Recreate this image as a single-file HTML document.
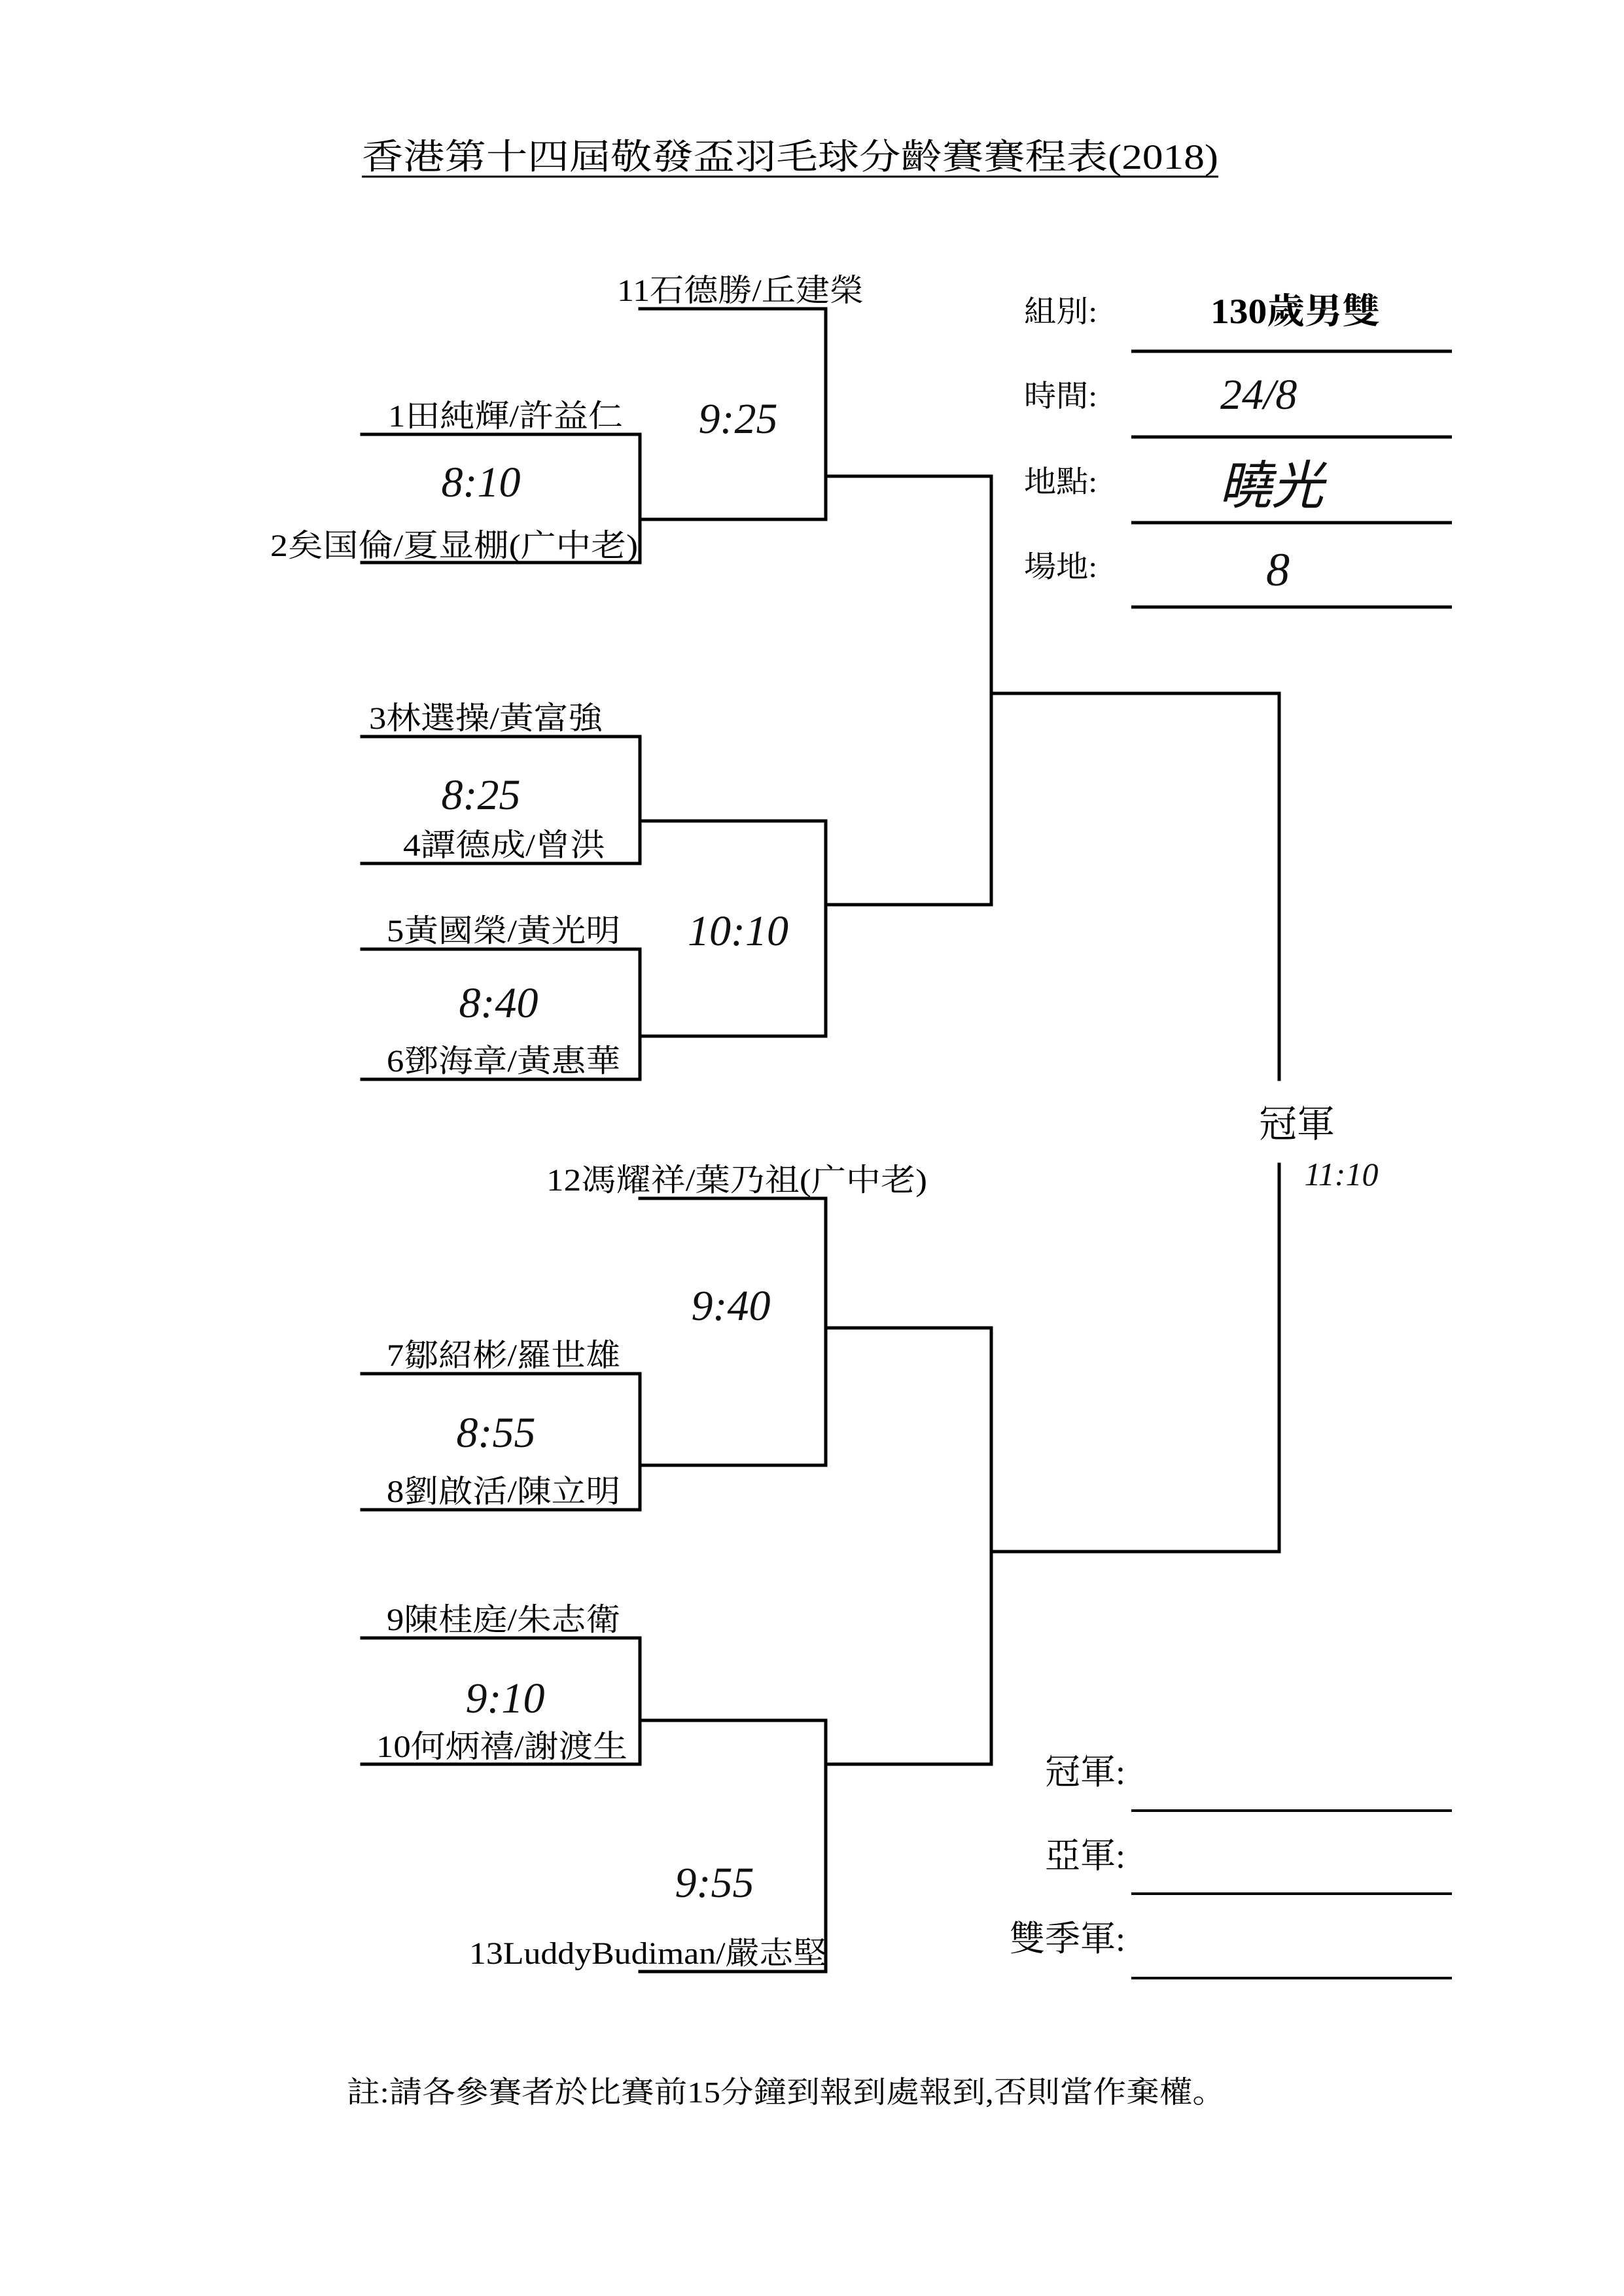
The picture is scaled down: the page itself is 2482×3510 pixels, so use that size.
<!DOCTYPE html>
<html>
<head>
<meta charset="utf-8">
<style>
html,body{margin:0;padding:0;background:#fff;}
svg{display:block;}
.t{font-family:"Liberation Serif","Noto Serif CJK SC","Noto Sans CJK TC",serif;fill:#000;}
.h{font-family:"Liberation Serif",serif;font-style:italic;fill:#111;}
</style>
</head>
<body>
<svg width="2482" height="3510" viewBox="0 0 2482 3510" xmlns="http://www.w3.org/2000/svg">
<rect width="2482" height="3510" fill="#fff"/>

<!-- Title -->
<text class="t" x="553" y="258" font-size="54" textLength="1309" lengthAdjust="spacingAndGlyphs">香港第十四屆敬發盃羽毛球分齡賽賽程表(2018)</text>
<line x1="553" y1="270" x2="1862" y2="270" stroke="#000" stroke-width="3"/>

<!-- Info block -->
<g class="t" font-size="46">
<text x="1565" y="492" textLength="112" lengthAdjust="spacingAndGlyphs">組別:</text>
<text x="1565" y="621" textLength="112" lengthAdjust="spacingAndGlyphs">時間:</text>
<text x="1565" y="752" textLength="112" lengthAdjust="spacingAndGlyphs">地點:</text>
<text x="1565" y="882" textLength="112" lengthAdjust="spacingAndGlyphs">場地:</text>
</g>
<text class="t" x="1850" y="494" font-size="54" font-weight="bold" textLength="259" lengthAdjust="spacingAndGlyphs">130歲男雙</text>
<g stroke="#000" stroke-width="5">
<line x1="1729" y1="537" x2="2219" y2="537"/>
<line x1="1729" y1="668" x2="2219" y2="668"/>
<line x1="1729" y1="799" x2="2219" y2="799"/>
<line x1="1729" y1="928" x2="2219" y2="928"/>
</g>
<text class="h" x="1865" y="625" font-size="66">24/8</text>
<text class="h" x="1863" y="770" font-size="80" font-family="'Noto Sans CJK TC',sans-serif">曉光</text>
<text class="h" x="1935" y="895" font-size="72">8</text>

<!-- Bracket lines -->
<g stroke="#000" stroke-width="5" fill="none" stroke-linecap="square">
<polyline points="978,472 1262,472 1262,794 978,794"/>
<polyline points="553,664 978,664 978,860 553,860"/>
<line x1="1262" y1="728" x2="1515" y2="728"/>
<polyline points="553,1126 978,1126 978,1320 553,1320"/>
<polyline points="553,1451 978,1451 978,1650 553,1650"/>
<polyline points="978,1255 1262,1255 1262,1584 978,1584"/>
<line x1="1262" y1="1383" x2="1515" y2="1383"/>
<polyline points="1515,728 1515,1383"/>
<polyline points="1515,1060 1955,1060 1955,1650"/>
<polyline points="1955,1780 1955,2372 1515,2372"/>
<polyline points="978,1832 1262,1832 1262,2240 978,2240"/>
<polyline points="553,2100 978,2100 978,2308 553,2308"/>
<line x1="1262" y1="2030" x2="1515" y2="2030"/>
<polyline points="553,2504 978,2504 978,2697 553,2697"/>
<polyline points="978,2630 1262,2630 1262,3014 978,3014"/>
<line x1="1262" y1="2697" x2="1515" y2="2697"/>
<polyline points="1515,2030 1515,2697"/>
</g>

<!-- Names -->
<g class="t" font-size="48">
<text x="943" y="460" textLength="377" lengthAdjust="spacingAndGlyphs">11石德勝/丘建榮</text>
<text x="593" y="652" textLength="359" lengthAdjust="spacingAndGlyphs">1田純輝/許益仁</text>
<text x="413" y="850" textLength="562" lengthAdjust="spacingAndGlyphs">2矣国倫/夏显棚(广中老)</text>
<text x="564" y="1114" textLength="357" lengthAdjust="spacingAndGlyphs">3林選操/黃富強</text>
<text x="616" y="1308" textLength="309" lengthAdjust="spacingAndGlyphs">4譚德成/曾洪</text>
<text x="591" y="1439" textLength="357" lengthAdjust="spacingAndGlyphs">5黃國榮/黃光明</text>
<text x="591" y="1638" textLength="357" lengthAdjust="spacingAndGlyphs">6鄧海章/黃惠華</text>
<text x="835" y="1820" textLength="582" lengthAdjust="spacingAndGlyphs">12馮耀祥/葉乃祖(广中老)</text>
<text x="591" y="2088" textLength="357" lengthAdjust="spacingAndGlyphs">7鄒紹彬/羅世雄</text>
<text x="591" y="2296" textLength="357" lengthAdjust="spacingAndGlyphs">8劉啟活/陳立明</text>
<text x="591" y="2492" textLength="357" lengthAdjust="spacingAndGlyphs">9陳桂庭/朱志衛</text>
<text x="575" y="2686" textLength="384" lengthAdjust="spacingAndGlyphs">10何炳禧/謝渡生</text>
<text x="717" y="3002" textLength="547" lengthAdjust="spacingAndGlyphs">13LuddyBudiman/嚴志堅</text>
</g>

<text class="t" x="1982" y="1738" font-size="58" text-anchor="middle">冠軍</text>

<!-- Handwritten times -->
<g class="h" font-size="66" text-anchor="middle">
<text x="1128" y="662">9:25</text>
<text x="735" y="759">8:10</text>
<text x="735" y="1237">8:25</text>
<text x="1128" y="1445">10:10</text>
<text x="762" y="1555">8:40</text>
<text x="1117" y="2018">9:40</text>
<text x="758" y="2212">8:55</text>
<text x="772" y="2618">9:10</text>
<text x="1092" y="2900">9:55</text>
<text x="2050" y="1812" font-size="50">11:10</text>
</g>

<!-- Results block -->
<g class="t" font-size="54" text-anchor="end">
<text x="1720" y="2727">冠軍:</text>
<text x="1720" y="2855">亞軍:</text>
<text x="1720" y="2982">雙季軍:</text>
</g>
<g stroke="#000" stroke-width="4">
<line x1="1729" y1="2768" x2="2219" y2="2768"/>
<line x1="1729" y1="2895" x2="2219" y2="2895"/>
<line x1="1729" y1="3024" x2="2219" y2="3024"/>
</g>

<!-- Note -->
<text class="t" x="530" y="3214" font-size="46" textLength="1343" lengthAdjust="spacingAndGlyphs">註:請各參賽者於比賽前15分鐘到報到處報到,否則當作棄權。</text>
</svg>
</body>
</html>
